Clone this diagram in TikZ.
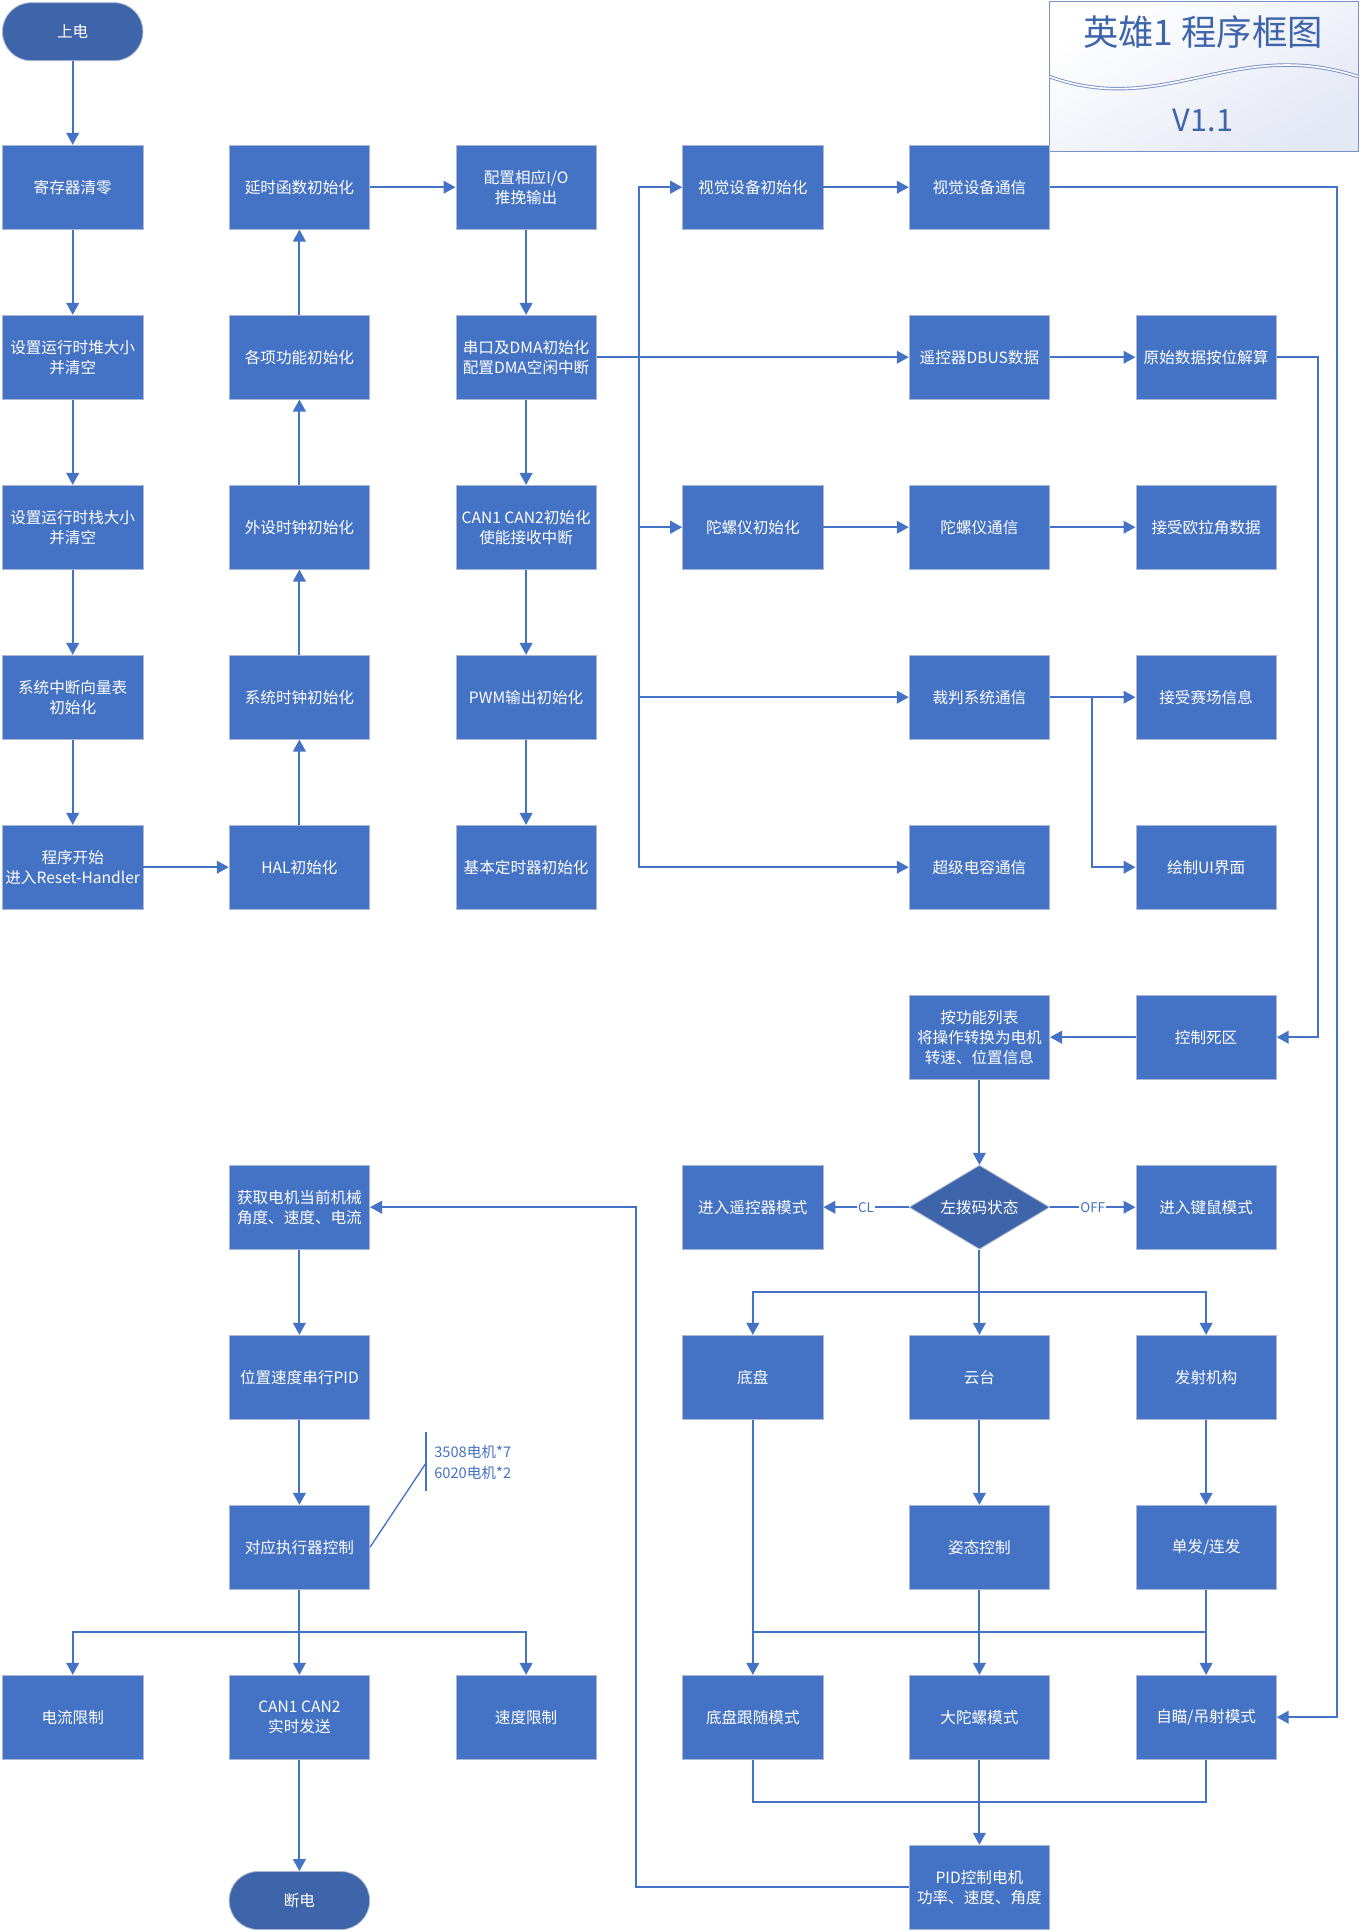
\documentclass[tikz,border=0pt]{standalone}
\usepackage{fontspec}
\setmainfont{Noto Sans CJK SC}
\usepackage{tikz}
\usetikzlibrary{arrows.meta, shapes.geometric}
\definecolor{boxfill}{RGB}{68, 114, 196}
\definecolor{boxedge}{RGB}{170, 184, 214}
\definecolor{termfill}{RGB}{62, 100, 170}
\definecolor{flow}{RGB}{68, 114, 196}
\definecolor{titleedge}{RGB}{120, 145, 200}
\definecolor{titleshade}{RGB}{228, 232, 245}
\definecolor{titletext}{RGB}{62, 100, 170}

\begin{document}
\begin{tikzpicture}[
    x=0.75pt, y=-0.75pt,
    blk/.style={draw=boxedge, line width=0.6pt, fill=boxfill, text=white, minimum width=105.3pt, minimum height=62.9pt, inner sep=0pt, align=center, font=\fontsize{11.7}{15}\selectfont},
    term/.style={blk, fill=termfill, rounded corners=21.5pt, minimum height=43.5pt},
    decide/.style={blk, diamond, fill=termfill, aspect=1.67},
    arrow/.style={-{Triangle[length=9pt, width=9.5pt]}, line width=1.4pt, draw=flow},
    wire/.style={line width=1.4pt, draw=flow},
    tag/.style={fill=white, text=flow, inner sep=1pt, font=\fontsize{10}{12}\selectfont},
    note/.style={text=flow, inner sep=0pt, align=left, font=\fontsize{11}{15.7}\selectfont}
]
    \useasboundingbox (0,0) rectangle (1360,1931);

    % title
    \node[draw=titleedge, line width=0.8pt, top color=white, bottom color=titleshade, shading angle=30, minimum width=231.8pt, minimum height=112.7pt] (title) at (1204,76.5) {};
    \draw[titleedge, line width=0.7pt, double=white, double distance=1.2pt] (1049.5,76.7) .. controls (1165,118) and (1235,36) .. (1358.5,76.7);
    \node[text=titletext, font=\fontsize{26.5}{30}\selectfont] (titlename) at (1203,32) {英雄1 程序框图};
    \node[text=titletext, font=\fontsize{23}{28}\selectfont] (version) at (1203,120) {V1.1};

    % init chain
    \node[term] (pwron) at (72.7,31.7) {上电};
    \node[blk] (regclr) at (72.7,187.2) {寄存器清零};
    \node[blk] (heap) at (72.7,357.2) {设置运行时堆大小\\并清空};
    \node[blk] (stack) at (72.7,527.2) {设置运行时栈大小\\并清空};
    \node[blk] (nvic) at (72.7,697.2) {系统中断向量表\\初始化};
    \node[blk] (reset) at (72.7,867.2) {程序开始\\进入Reset-Handler};
    \node[blk] (hal) at (299.4,867.2) {HAL初始化};
    \node[blk] (sysclk) at (299.4,697.2) {系统时钟初始化};
    \node[blk] (periclk) at (299.4,527.2) {外设时钟初始化};
    \node[blk] (funcs) at (299.4,357.2) {各项功能初始化};
    \node[blk] (delay) at (299.4,187.2) {延时函数初始化};
    \node[blk] (gpio) at (526.1,187.2) {配置相应I/O\\推挽输出};
    \node[blk] (uart) at (526.1,357.2) {串口及DMA初始化\\配置DMA空闲中断};
    \node[blk] (can) at (526.1,527.2) {CAN1 CAN2初始化\\使能接收中断};
    \node[blk] (pwm) at (526.1,697.2) {PWM输出初始化};
    \node[blk] (tim) at (526.1,867.2) {基本定时器初始化};

    % peripherals
    \node[blk] (visini) at (752.8,187.2) {视觉设备初始化};
    \node[blk] (gyroini) at (752.8,527.2) {陀螺仪初始化};
    \node[blk] (viscom) at (979.4,187.2) {视觉设备通信};
    \node[blk] (dbus) at (979.4,357.2) {遥控器DBUS数据};
    \node[blk] (gyrocom) at (979.4,527.2) {陀螺仪通信};
    \node[blk] (referee) at (979.4,697.2) {裁判系统通信};
    \node[blk] (supcap) at (979.4,867.2) {超级电容通信};
    \node[blk] (decode) at (1206.1,357.2) {原始数据按位解算};
    \node[blk] (euler) at (1206.1,527.2) {接受欧拉角数据};
    \node[blk] (field) at (1206.1,697.2) {接受赛场信息};
    \node[blk] (ui) at (1206.1,867.2) {绘制UI界面};

    % control
    \node[blk] (dead) at (1206.1,1037.2) {控制死区};
    \node[blk] (mapping) at (979.4,1037.2) {按功能列表\\将操作转换为电机\\转速、位置信息};
    \node[decide] (lever) at (979.4,1207.2) {左拨码状态};
    \node[blk] (rcmode) at (752.8,1207.2) {进入遥控器模式};
    \node[blk] (kbmode) at (1206.1,1207.2) {进入键鼠模式};
    \node[blk] (chassis) at (752.8,1377.2) {底盘};
    \node[blk] (gimbal) at (979.4,1377.2) {云台};
    \node[blk] (shooter) at (1206.1,1377.2) {发射机构};
    \node[blk] (attitude) at (979.4,1547.2) {姿态控制};
    \node[blk] (fire) at (1206.1,1547.2) {单发/连发};
    \node[blk] (follow) at (752.8,1717.2) {底盘跟随模式};
    \node[blk] (spin) at (979.4,1717.2) {大陀螺模式};
    \node[blk] (aim) at (1206.1,1717.2) {自瞄/吊射模式};
    \node[blk] (pid) at (979.4,1887.2) {PID控制电机\\功率、速度、角度};

    % motor output
    \node[blk] (feedback) at (299.4,1207.2) {获取电机当前机械\\角度、速度、电流};
    \node[blk] (cascade) at (299.4,1377.2) {位置速度串行PID};
    \node[blk] (actuate) at (299.4,1547.2) {对应执行器控制};
    \node[blk] (curlim) at (72.7,1717.2) {电流限制};
    \node[blk] (cansend) at (299.4,1717.2) {CAN1 CAN2\\实时发送};
    \node[blk] (spdlim) at (526.1,1717.2) {速度限制};
    \node[term] (pwroff) at (299.4,1900.5) {断电};
    \node[note, anchor=west] (motors) at (434,1462.5) {3508电机*7\\6020电机*2};

    \coordinate (bus) at (638.7,357.2);
    \coordinate (visroute) at (1336.6,187.2);
    \coordinate (rcroute) at (1318,357.2);
    \coordinate (refsplit) at (1091.7,697.2);
    \coordinate (modefork) at (979.4,1292.2);
    \coordinate (modejoin) at (979.4,1632.2);
    \coordinate (mergept) at (979.4,1801.7);
    \coordinate (pidroute) at (636,1887.2);
    \coordinate (actfork) at (299.4,1632.2);
    \coordinate (brktop) at (426,1432);
    \coordinate (brkmid) at (426,1463);
    \coordinate (brkbot) at (426,1491);

    \draw[arrow] (pwron) -- (regclr);
    \draw[arrow] (regclr) -- (heap);
    \draw[arrow] (heap) -- (stack);
    \draw[arrow] (stack) -- (nvic);
    \draw[arrow] (nvic) -- (reset);
    \draw[arrow] (reset) -- (hal);
    \draw[arrow] (hal) -- (sysclk);
    \draw[arrow] (sysclk) -- (periclk);
    \draw[arrow] (periclk) -- (funcs);
    \draw[arrow] (funcs) -- (delay);
    \draw[arrow] (delay) -- (gpio);
    \draw[arrow] (gpio) -- (uart);
    \draw[arrow] (uart) -- (can);
    \draw[arrow] (can) -- (pwm);
    \draw[arrow] (pwm) -- (tim);

    \draw[arrow] (uart) -- (dbus);
    \draw[arrow] (bus) |- (visini);
    \draw[arrow] (bus) |- (gyroini);
    \draw[arrow] (bus) |- (referee);
    \draw[arrow] (bus) |- (supcap);
    \draw[arrow] (visini) -- (viscom);
    \draw[arrow] (viscom) -- (visroute) |- (aim);
    \draw[arrow] (dbus) -- (decode);
    \draw[arrow] (decode) -- (rcroute) |- (dead);
    \draw[arrow] (gyroini) -- (gyrocom);
    \draw[arrow] (gyrocom) -- (euler);
    \draw[arrow] (referee) -- (field);
    \draw[arrow] (refsplit) |- (ui);

    \draw[arrow] (dead) -- (mapping);
    \draw[arrow] (mapping) -- (lever);
    \draw[arrow] (lever) -- node[tag] {CL} (rcmode);
    \draw[arrow] (lever) -- node[tag] {OFF} (kbmode);
    \draw[wire] (lever) -- (modefork);
    \draw[arrow] (modefork) -| (chassis);
    \draw[arrow] (modefork) -- (gimbal);
    \draw[arrow] (modefork) -| (shooter);
    \draw[arrow] (gimbal) -- (attitude);
    \draw[arrow] (shooter) -- (fire);
    \draw[arrow] (chassis) -- (follow);
    \draw[arrow] (attitude) -- (spin);
    \draw[arrow] (fire) -- (aim);
    \draw[wire] (chassis |- modejoin) -- (fire |- modejoin);
    \draw[wire] (follow.south) |- (mergept);
    \draw[wire] (aim.south) |- (mergept);
    \draw[arrow] (spin) -- (pid);
    \draw[arrow] (pid) -- (pidroute) |- (feedback);

    \draw[arrow] (feedback) -- (cascade);
    \draw[arrow] (cascade) -- (actuate);
    \draw[wire] (actuate) -- (actfork);
    \draw[arrow] (actfork) -| (curlim);
    \draw[arrow] (actfork) -- (cansend);
    \draw[arrow] (actfork) -| (spdlim);
    \draw[arrow] (cansend) -- (pwroff);
    \draw[wire, line width=1pt] (brktop) -- (brkbot);
    \draw[wire, line width=1pt] (actuate.east) -- (brkmid);
\end{tikzpicture}
\end{document}
